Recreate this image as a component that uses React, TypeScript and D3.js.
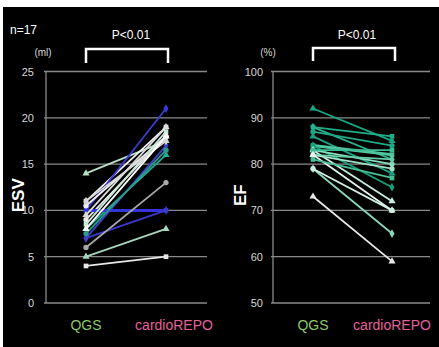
import React from "react";
import * as d3 from "d3";

// categories on the x axis
const groups = ["QGS", "cardioREPO"];

// ESV (ml): [QGS, cardioREPO] per patient
const esvPairs = [
  [14, 17.5], [11, 19], [10, 21], [9, 18], [8, 16], [10, 10], [7, 10], [6, 13], [5, 8],
  [4, 5], [7, 17], [10.5, 18], [9.5, 19], [8.5, 18.5], [11, 17.5], [7.5, 16.5], [8, 18],
];
const esvColors = [
  "#b8e0c8", "#f2f2f2", "#3b3bd0", "#ececec", "#1fae98", "#3434d8", "#3a3ac8", "#a8a8a8", "#a8d4bc",
  "#e8e8e8", "#4040c8", "#f0f0f0", "#dcdcdc", "#c8e8d8", "#d8d8d8", "#2c9c8c", "#ffffff",
];
const esvTicks = [0, 5, 10, 15, 20, 25];

// EF (%): [QGS, cardioREPO] per patient
const efPairs = [
  [92, 85], [88, 86], [88, 81], [87, 84], [86, 78], [84, 82], [84, 75], [83, 80], [83, 72],
  [83, 83], [82, 81], [82, 79], [82, 70], [81, 77], [79, 65], [79, 70], [73, 59],
];
const efColors = [
  "#18a884", "#1fae8a", "#28b490", "#20a886", "#1aa080", "#50c49c", "#14a07c", "#88dcbc", "#c8eedf",
  "#3cbc94", "#66cca8", "#a0e0c8", "#e4f4ec", "#48c098", "#8ad8b8", "#d0eee0", "#e8e8e8",
];
const efTicks = [50, 60, 70, 80, 90, 100];

const font = "'Liberation Sans', Arial, sans-serif";

function Panel({ pairs, colors, ticks, domain, axisX, gridX2, xRange, tickX, title, titleX, unit, unitX, pX, bracket, labelOffset }) {
  const y = d3.scaleLinear().domain(domain).range([303, 71.5]);
  const x = d3.scalePoint().domain(groups).range(xRange).padding(0);
  const shapes = [d3.symbolTriangle, d3.symbolSquare, d3.symbolDiamond, d3.symbolCircle];
  return (
    <g>
      {ticks.map((t) => (
        <g key={t}>
          <line x1={axisX - 2} x2={gridX2} y1={y(t)} y2={y(t)} stroke="#8a8a8a" strokeWidth={1.3} />
          <text x={tickX} y={y(t) + 4} textAnchor="end" fill="#d6d6d6" fontSize={11} fontFamily={font}>
            {t}
          </text>
        </g>
      ))}
      <line x1={axisX} x2={axisX} y1={y(domain[1])} y2={y(domain[0])} stroke="#8a8a8a" strokeWidth={1.3} />
      <text
        transform={`translate(${titleX},${y((domain[0] + domain[1]) / 2) + 8}) rotate(-90)`}
        textAnchor="middle"
        fill="#ffffff"
        fontSize={17}
        fontWeight="bold"
        fontFamily={font}
      >
        {title}
      </text>
      <text x={unitX} y={56} textAnchor="middle" fill="#d6d6d6" fontSize={10} fontFamily={font}>
        {unit}
      </text>
      <text x={pX} y={39} textAnchor="middle" fill="#ffffff" fontSize={12} fontFamily={font}>
        P&lt;0.01
      </text>
      <path
        d={`M${bracket[0]},${bracket[3]}V${bracket[2]}H${bracket[1]}V${bracket[3]}`}
        fill="none"
        stroke="#ffffff"
        strokeWidth={2.5}
      />
      {pairs.map((p, i) => (
        <g key={i}>
          <line
            x1={x(groups[0])}
            y1={y(p[0])}
            x2={x(groups[1])}
            y2={y(p[1])}
            stroke={colors[i]}
            strokeWidth={i === 5 ? 3 : 1.8}
          />
          {p.map((v, j) => (
            <path
              key={j}
              transform={`translate(${x(groups[j])},${y(v)})`}
              d={d3.symbol().type(shapes[i % shapes.length]).size(22)()}
              fill={colors[i]}
            />
          ))}
        </g>
      ))}
      <text x={x(groups[0])} y={330} textAnchor="middle" fill="#8cc86c" fontSize={14} fontFamily={font}>
        {groups[0]}
      </text>
      <text x={x(groups[1]) + labelOffset} y={330} textAnchor="middle" fill="#e4609a" fontSize={14} fontFamily={font}>
        {groups[1]}
      </text>
    </g>
  );
}

export default function App() {
  return (
    <div style={{ position: "fixed", left: 0, top: 0, width: 439, height: 347, background: "#fff" }}>
      <svg width={439} height={347} style={{ display: "block" }}>
        <rect x={3} y={7} width={436} height={340} fill="#000" />
        <text x={10} y={34} fill="#ffffff" fontSize={12} fontFamily={font}>
          n=17
        </text>
        <Panel
          pairs={esvPairs}
          colors={esvColors}
          ticks={esvTicks}
          domain={[0, 25]}
          axisX={46}
          gridX2={207}
          xRange={[86, 166]}
          tickX={34}
          title="ESV"
          titleX={24}
          unit="(ml)"
          unitX={43}
          pX={131}
          bracket={[86, 168, 49, 63]}
          labelOffset={8}
        />
        <Panel
          pairs={efPairs}
          colors={efColors}
          ticks={efTicks}
          domain={[50, 100]}
          axisX={273}
          gridX2={430}
          xRange={[313, 392]}
          tickX={263}
          title="EF"
          titleX={246}
          unit="(%)"
          unitX={268}
          pX={357}
          bracket={[313, 395, 48, 61]}
          labelOffset={0}
        />
      </svg>
    </div>
  );
}
